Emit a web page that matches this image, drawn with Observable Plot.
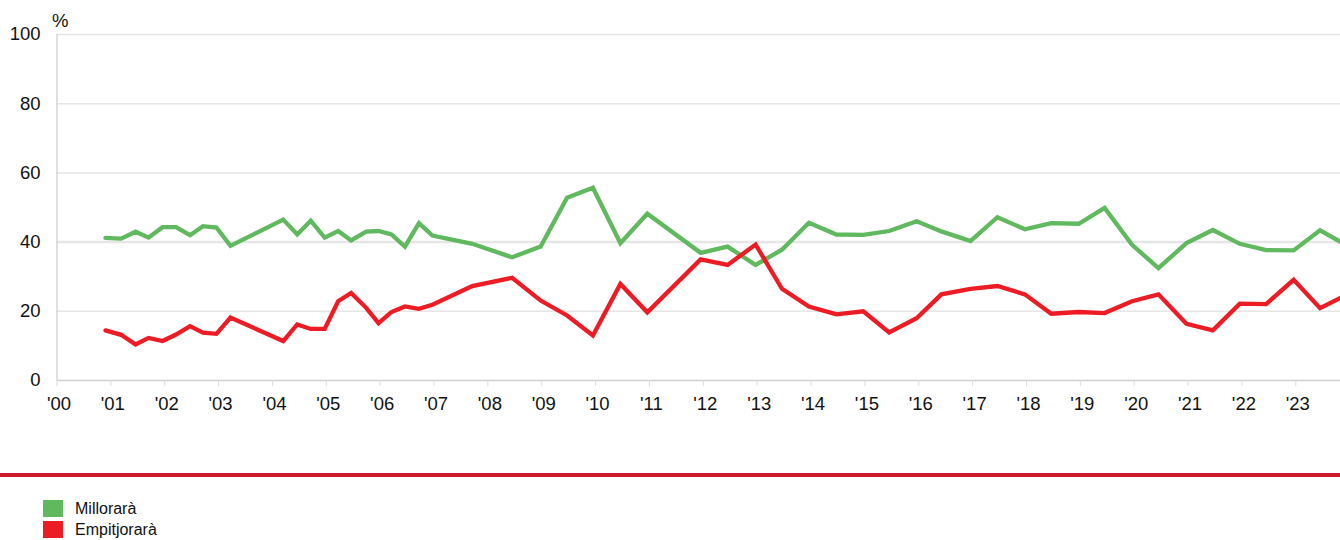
<!DOCTYPE html>
<html><head><meta charset="utf-8">
<script src="https://cdn.jsdelivr.net/npm/d3@7"></script>
<script src="https://cdn.jsdelivr.net/npm/@observablehq/plot@0.6"></script>
<style>
body{margin:0;background:#fff;font-family:"Liberation Sans",Arial,sans-serif;}
#wrap{position:relative;width:1340px;height:540px;overflow:hidden;}
#chart{position:absolute;left:0;top:0;}
#bar{position:absolute;left:0;top:473px;width:1340px;height:4px;background:#cf1830;}
#legend{position:absolute;left:43px;top:500px;font-size:16px;color:#111;}
.item{display:flex;align-items:center;height:17px;margin-bottom:4px;line-height:17px;}
.sw{width:20px;height:17px;margin-right:12px;flex:none;}
</style></head><body>
<div id="wrap"><div id="chart"></div><div id="bar"></div><div id="legend"></div></div>
<script>
// Decimal years of each survey
const dates = [2000.90, 2001.19, 2001.46, 2001.70, 2001.96, 2002.21, 2002.47, 2002.71, 2002.96, 2003.22,
  2004.20, 2004.46, 2004.71, 2004.97, 2005.22, 2005.46, 2005.74, 2005.97, 2006.21, 2006.46, 2006.72, 2006.97,
  2007.71, 2008.45, 2008.98, 2009.47, 2009.95, 2010.46, 2010.96, 2011.95, 2012.45, 2012.97, 2013.46, 2013.96,
  2014.47, 2014.97, 2015.45, 2015.96, 2016.42, 2016.96, 2017.46, 2017.97, 2018.46, 2018.97, 2019.45, 2019.96,
  2020.45, 2020.97, 2021.46, 2021.96, 2022.45, 2022.96, 2023.45, 2023.83];
const millorara = [41.2, 41.0, 43.0, 41.3, 44.3, 44.3, 42.0, 44.6, 44.2, 38.9,
  46.5, 42.2, 46.2, 41.3, 43.2, 40.5, 43.0, 43.2, 42.2, 38.7, 45.5, 41.9,
  39.5, 35.6, 38.7, 52.8, 55.7, 39.7, 48.2, 36.9, 38.7, 33.4, 37.8, 45.6,
  42.2, 42.1, 43.2, 46.0, 43.1, 40.3, 47.2, 43.7, 45.5, 45.3, 49.9, 39.2,
  32.5, 39.7, 43.5, 39.5, 37.7, 37.6, 43.4, 40.1];
const empitjorara = [14.5, 13.2, 10.4, 12.3, 11.4, 13.3, 15.7, 13.8, 13.5, 18.2,
  11.4, 16.2, 14.9, 14.9, 22.9, 25.3, 21.0, 16.6, 19.8, 21.4, 20.7, 21.9,
  27.3, 29.7, 23.1, 18.8, 13.0, 27.9, 19.7, 35.0, 33.4, 39.3, 26.5, 21.4,
  19.1, 20.0, 13.9, 18.0, 24.9, 26.5, 27.3, 24.9, 19.3, 19.8, 19.5, 22.9,
  24.9, 16.4, 14.5, 22.2, 22.1, 29.1, 20.9, 23.9];
const series = ["Millorarà", "Empitjorarà"];
const colors = ["#61b95f", "#ed1c24"];
const yTicks = [0, 20, 40, 60, 80, 100];
const xTicks = d3.range(2000, 2024);
const xTickLabels = ["'00","'01","'02","'03","'04","'05","'06","'07","'08","'09","'10","'11","'12","'13","'14","'15","'16","'17","'18","'19","'20","'21","'22","'23"];

const rows = [];
dates.forEach((d, i) => {
  rows.push({date: d, value: millorara[i], serie: series[0]});
  rows.push({date: d, value: empitjorara[i], serie: series[1]});
});

const chart = Plot.plot({
  width: 1340,
  height: 430,
  marginLeft: 56.5,
  marginRight: 0,
  marginTop: 34,
  marginBottom: 50,
  style: {fontFamily: '"Liberation Sans", Arial, sans-serif', fontSize: "18.5px", background: "#fff", overflow: "visible"},
  x: {domain: [2000, 2023.83], label: null},
  y: {domain: [0, 100], label: null},
  color: {domain: series, range: colors},
  marks: [
    Plot.gridY(yTicks.filter(d => d > 0), {stroke: "#e6e6e6", strokeOpacity: 1, strokeWidth: d => d === 40 ? 2.5 : 1.5}),
    Plot.ruleX([2000], {stroke: "#cfcfcf", strokeWidth: 1.3}),
    Plot.ruleY([0], {stroke: "#cfcfcf", strokeWidth: 1.5}),
    Plot.axisY({ticks: yTicks, tickSize: 0, tickPadding: 16.5, label: null, fill: "#111", fontSize: 18.5}),
    Plot.axisX({ticks: xTicks, tickSize: 6, tickFormat: () => "", label: null, stroke: "#dcdcdc"}),
    Plot.axisX({ticks: xTicks, tickSize: 0, tickPadding: 16.5, dx: 2, label: null, fill: "#111", fontSize: 18.5,
      tickFormat: d => xTickLabels[xTicks.indexOf(d)]}),
    Plot.text(["%"], {frameAnchor: "top-left", textAnchor: "start", dx: -5, dy: -21, fontSize: 18.5, fill: "#111"}),
    Plot.line(rows, {x: "date", y: "value", z: "serie", stroke: "serie", strokeWidth: 4.3, strokeLinejoin: "miter", strokeMiterlimit: 3})
  ]
});
document.getElementById("chart").appendChild(chart);

const legend = document.getElementById("legend");
series.forEach((s, i) => {
  const item = document.createElement("div");
  item.className = "item";
  const sw = document.createElement("span");
  sw.className = "sw";
  sw.style.background = colors[i];
  const t = document.createElement("span");
  t.textContent = s;
  item.appendChild(sw);
  item.appendChild(t);
  legend.appendChild(item);
});
</script>
</body></html>
